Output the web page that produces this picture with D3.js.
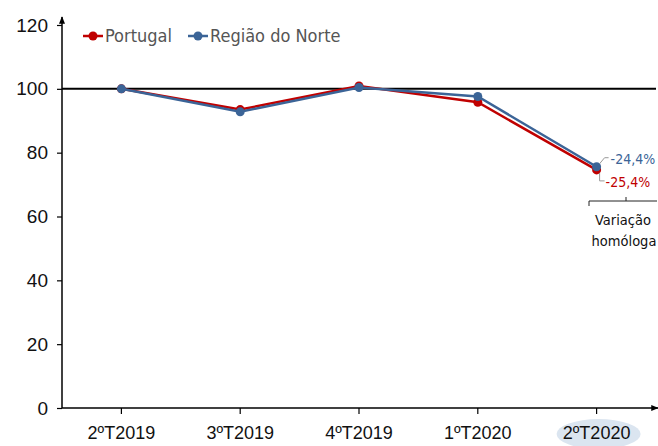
<!DOCTYPE html>
<html>
<head>
<meta charset="UTF-8">
<script src="https://d3js.org/d3.v7.min.js"></script>
<style>
  body { margin: 0; background: #fff; overflow: hidden; }
  svg { font-family: "DejaVu Sans Condensed", "Liberation Sans Narrow", sans-serif; font-stretch: condensed; }
</style>
</head>
<body>
<svg id="chart" width="658" height="446"></svg>
<script>
const categories = ["2ºT2019", "3ºT2019", "4ºT2019", "1ºT2020", "2ºT2020"];
const portugal = [100, 93.5, 100.9, 95.8, 74.6];
const norte = [100, 92.8, 100.4, 97.6, 75.6];
const yTicks = [0, 20, 40, 60, 80, 100, 120];
const seriesNames = ["Portugal", "Região do Norte"];
const changeLabels = ["-25,4%", "-24,4%"];

const red = "#c00000", blue = "#3b6497";
const svg = d3.select("#chart");
const plot = { left: 62, right: 656, top: 25, bottom: 408 };

const x = d3.scaleBand().domain(categories).range([plot.left, plot.right]);
const y = d3.scaleLinear().domain([0, 120]).range([plot.bottom, plot.top]);
const cx = d => x(d) + x.bandwidth() / 2;

// highlight behind last label
svg.append("ellipse")
  .attr("cx", cx(categories[4]) + 2).attr("cy", 434)
  .attr("rx", 42).attr("ry", 15)
  .attr("fill", "#dbe5f0");

// axes
const yAxis = svg.append("g").attr("transform", `translate(${plot.left},0)`)
  .call(d3.axisLeft(y).tickValues(yTicks).tickSize(5).tickPadding(9));
yAxis.select(".domain").remove();
yAxis.selectAll("line").attr("stroke", "#000").attr("stroke-width", 1.2);
yAxis.selectAll("text").attr("font-size", 19).attr("fill", "#111");

const xAxis = svg.append("g").attr("transform", `translate(0,${plot.bottom})`)
  .call(d3.axisBottom(x).tickSize(6).tickPadding(8));
xAxis.select(".domain").remove();
xAxis.selectAll("line").attr("stroke", "#000").attr("stroke-width", 1.2);
xAxis.selectAll("text").attr("font-size", 18).attr("fill", "#111").attr("dy", "0.95em");

svg.append("defs").append("marker")
  .attr("id", "arr").attr("viewBox", "0 -5 10 10")
  .attr("refX", 9).attr("refY", 0)
  .attr("markerWidth", 5).attr("markerHeight", 5)
  .attr("orient", "auto")
  .append("path").attr("d", "M0,-4L10,0L0,4").attr("fill", "#000");

svg.append("line").attr("x1", plot.left).attr("x2", plot.left)
  .attr("y1", plot.bottom).attr("y2", plot.top - 8)
  .attr("stroke", "#000").attr("stroke-width", 1.5).attr("marker-end", "url(#arr)");
svg.append("line").attr("x1", plot.left).attr("x2", plot.right + 2)
  .attr("y1", plot.bottom).attr("y2", plot.bottom)
  .attr("stroke", "#000").attr("stroke-width", 1.5).attr("marker-end", "url(#arr)");

// reference line at 100
svg.append("line").attr("x1", plot.left).attr("x2", plot.right)
  .attr("y1", y(100)).attr("y2", y(100))
  .attr("stroke", "#000").attr("stroke-width", 2);

const line = d3.line().x((d, i) => cx(categories[i])).y(d => y(d));
[[portugal, red], [norte, blue]].forEach(([vals, col]) => {
  svg.append("path").datum(vals).attr("d", line)
    .attr("fill", "none").attr("stroke", col).attr("stroke-width", 2.5);
  svg.selectAll(null).data(vals).join("circle")
    .attr("cx", (d, i) => cx(categories[i])).attr("cy", d => y(d))
    .attr("r", 4.5).attr("fill", col);
});

// legend
const legend = [[seriesNames[0], red, 83], [seriesNames[1], blue, 188]];
legend.forEach(([name, col, lx]) => {
  svg.append("line").attr("x1", lx).attr("x2", lx + 20).attr("y1", 36).attr("y2", 36)
    .attr("stroke", col).attr("stroke-width", 2.5);
  svg.append("circle").attr("cx", lx + 10).attr("cy", 36).attr("r", 4.5).attr("fill", col);
  svg.append("text").attr("x", lx + 22).attr("y", 42).attr("font-size", 18)
    .attr("fill", "#555").text(name);
});

// change annotations
const ax = cx(categories[4]);
const pn = y(norte[4]), pp = y(portugal[4]);
svg.append("path").attr("d", `M${ax + 3},${pn - 3} L${ax + 8},${pn - 9} L${ax + 12},${pn - 9}`)
  .attr("fill", "none").attr("stroke", "#999").attr("stroke-width", 1);
svg.append("text").attr("x", ax + 14).attr("y", pn - 3).attr("font-size", 14)
  .attr("fill", blue).text(changeLabels[1]);
svg.append("path").attr("d", `M${ax + 3},${pp + 3} L${ax + 3},${pp + 11} L${ax + 8},${pp + 11}`)
  .attr("fill", "none").attr("stroke", "#999").attr("stroke-width", 1);
svg.append("text").attr("x", ax + 9).attr("y", pp + 17).attr("font-size", 14)
  .attr("fill", red).text(changeLabels[0]);

// bracket
svg.append("path").attr("d", "M589,206 L589,201 L657,201 M626,201 L626,197")
  .attr("fill", "none").attr("stroke", "#222").attr("stroke-width", 1);
svg.append("text").attr("x", 623).attr("y", 225).attr("text-anchor", "middle")
  .attr("font-size", 14.5).attr("fill", "#111").text("Variação");
svg.append("text").attr("x", 624).attr("y", 246).attr("text-anchor", "middle")
  .attr("font-size", 14.5).attr("fill", "#111").text("homóloga");
</script>
</body>
</html>
